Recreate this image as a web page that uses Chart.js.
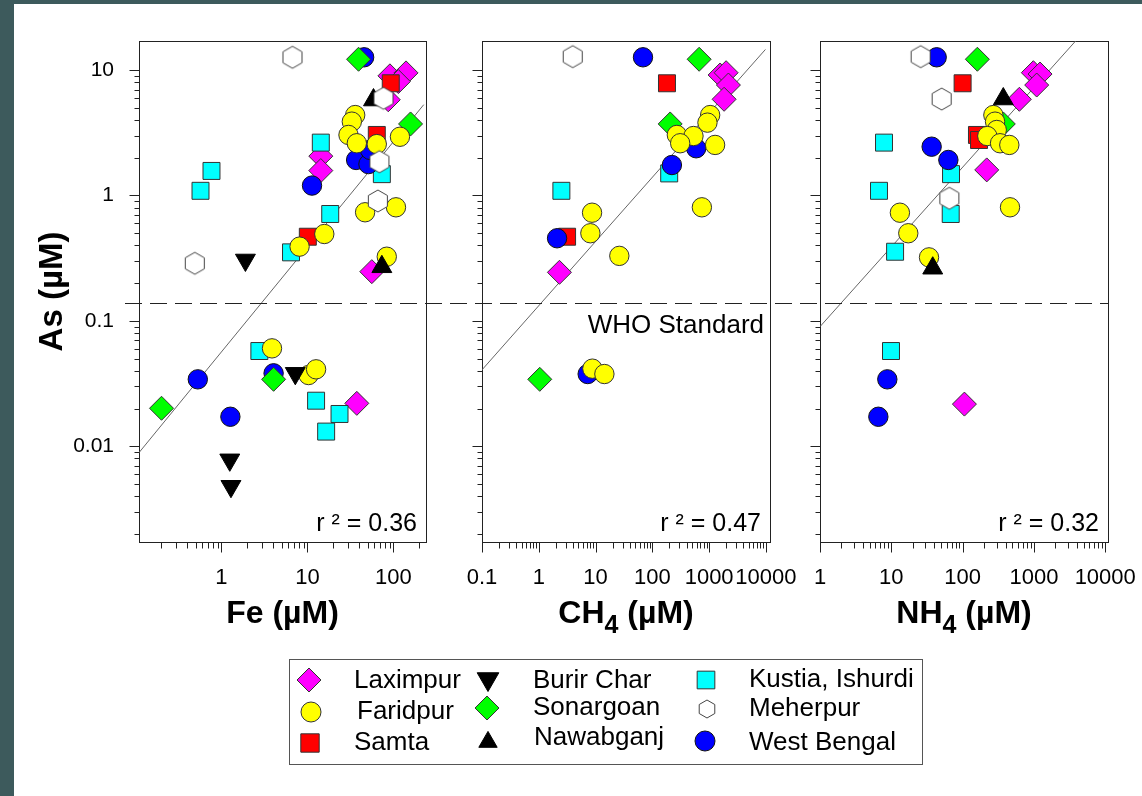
<!DOCTYPE html>
<html>
<head>
<meta charset="utf-8">
<script src="https://cdn.jsdelivr.net/npm/chart.js@4.4.0/dist/chart.umd.min.js"></script>
<style>
  html, body { margin: 0; padding: 0; }
  body { width: 1142px; height: 796px; background: #3d5a5c; position: relative; overflow: hidden;
         font-family: "Liberation Sans", Arial, sans-serif; }
  #sheet { position: absolute; left: 14px; top: 4px; right: 0; bottom: 0; background: #fff; }
  canvas.panel { position: absolute; top: 0; }
  #legendBox { position: absolute; left: 289px; top: 659px; width: 634px; height: 106px;
               border: 1px solid #555; box-sizing: border-box; }
  #legendMarks { position: absolute; left: 289px; top: 659px; }
  .lg { position: absolute; font-size: 26px; line-height: 26px; color: #000; white-space: nowrap; }
</style>
</head>
<body>
<div id="sheet"></div>
<canvas id="pFe" class="panel" width="440" height="650" style="left:0px"></canvas>
<canvas id="pCh4" class="panel" width="360" height="650" style="left:440px"></canvas>
<canvas id="pNh4" class="panel" width="342" height="650" style="left:800px"></canvas>
<div id="legendBox"></div>
<canvas id="legendMarks" width="634" height="106"></canvas>
<div id="legendText"></div>

<script>
// ---- Axis tick labels (µM) ----
const asTickLabels  = [0.01, 0.1, 1, 10];
const feTickLabels  = [1, 10, 100];
const ch4TickLabels = [0.1, 1, 10, 100, 1000, 10000];
const nh4TickLabels = [1, 10, 100, 1000, 10000];

// WHO drinking-water limit for As (µM) and r² of each fit
const whoStandard = 0.14;
const r2Values = [0.36, 0.47, 0.32];

// ---- Sites ----
const sites = ['Laximpur', 'Faridpur', 'Samta', 'Burir Char', 'Sonargoan',
               'Nawabganj', 'Kustia, Ishurdi', 'Meherpur', 'West Bengal'];

// ---- As vs Fe : [Fe, As] ----
const laximpurFe   = [[91, 9.0], [140, 9.5], [114, 8.1], [87, 5.8], [14.3, 2.06], [14.3, 1.58], [56, 0.247], [37.5, 0.022]];
const faridpurFe   = [[35.9, 4.38], [32.8, 3.88], [30, 3.04], [37.5, 2.61], [64, 2.57], [119, 2.94], [46.8, 0.735],
                      [107, 0.805], [15.7, 0.493], [8.1, 0.391], [83.6, 0.325], [3.87, 0.0604], [10.3, 0.037], [12.6, 0.0411]];
const samtaFe      = [[93, 7.85], [64, 3.04], [10.1, 0.469]];
const burirCharFe  = [[1.9, 0.306], [7.22, 0.0382], [1.25, 0.0078], [1.29, 0.0048]];
const sonargoanFe  = [[39.3, 12.2], [158, 3.72], [4.04, 0.0342], [0.201, 0.0201]];
const nawabganjFe  = [[58.6, 5.77], [73.3, 0.27]];
const kustiaFe     = [[14.3, 2.64], [73.3, 1.48], [0.766, 1.57], [0.571, 1.09], [18.4, 0.712], [6.44, 0.352],
                      [2.76, 0.0575], [12.6, 0.0231], [23.6, 0.0181], [16.5, 0.0131]];
const meherpurFe   = [[6.7, 12.65], [76.6, 5.96], [68.7, 1.86], [65.8, 0.904], [0.49, 0.288]];
const westBengalFe = [[45.6, 12.65], [36.8, 1.92], [51.2, 1.78], [53.5, 2.31], [11.3, 1.2], [4.04, 0.0382],
                      [0.531, 0.0342], [1.27, 0.0172]];
const fitFe        = [[0.11, 0.0089], [225, 5.3]];

// ---- As vs CH4 : [CH4, As] ----
const laximpurCh4   = [[1560, 9.14], [1990, 9.53], [2185, 7.6], [1835, 5.85], [2.31, 0.244]];
const faridpurCh4   = [[1042, 4.38], [934, 3.81], [270, 3.04], [530, 2.98], [309, 2.61], [1274, 2.53], [745, 0.805],
                       [8.67, 0.729], [8.1, 0.5], [26.2, 0.33], [8.79, 0.0416], [14.3, 0.0377]];
const samtaCh4      = [[181, 7.85], [3.15, 0.469]];
const burirCharCh4  = [];
const sonargoanCh4  = [[667, 12.2], [206, 3.72], [1.04, 0.0342]];
const nawabganjCh4  = [];
const kustiaCh4     = [[198, 1.5], [2.5, 1.09]];
const meherpurCh4   = [[3.96, 12.8]];
const westBengalCh4 = [[68.4, 12.65], [591, 2.38], [221, 1.75], [2.1, 0.456], [7.26, 0.0377]];
const fitCh4        = [[0.1, 0.0407], [9800, 14.6]];

// ---- As vs NH4 : [NH4, As] ----
const laximpurNh4   = [[982, 9.53], [1219, 9.3], [1094, 7.6], [625, 5.85], [218, 1.6], [106, 0.0217]];
const faridpurNh4   = [[270, 4.38], [285, 3.88], [301, 3.33], [222, 2.98], [335, 2.61], [452, 2.53], [462, 0.805],
                       [13.2, 0.729], [17.3, 0.5], [33.8, 0.321]];
const samtaNh4      = [[100, 7.85], [159, 3.04], [170, 2.77]];
const burirCharNh4  = [];
const sonargoanNh4  = [[161, 12.2], [372, 3.72]];
const nawabganjNh4  = [[372, 5.88], [38.1, 0.263]];
const kustiaNh4     = [[7.9, 2.64], [6.72, 1.09], [68.8, 1.48], [68.1, 0.712], [11.3, 0.356], [9.9, 0.0575]];
const meherpurNh4   = [[25.8, 12.8], [50.8, 5.88], [65.1, 0.95]];
const westBengalNh4 = [[43.3, 12.65], [36.8, 2.45], [63.1, 1.92], [8.79, 0.0342], [6.58, 0.0172]];
const fitNh4        = [[1, 0.09], [4000, 17.5]];

// ---- Marker appearance per site (same order as `sites`) ----
const FONT = '"Liberation Sans", Arial, sans-serif';
const siteStyles = [
  { shape: 'rectRot',  fill: '#ff00ff', stroke: '#333', bw: 1, r: 12,  order: 9 },
  { shape: 'circle',   fill: '#ffff00', stroke: '#333', bw: 1, r: 9.7, order: 4 },
  { shape: 'rect',     fill: '#ff0000', stroke: '#333', bw: 1, r: 12,  order: 8 },
  { shape: 'triangle', fill: '#000000', stroke: '#000', bw: 1, r: 11.5, order: 3, rot: 180 },
  { shape: 'rectRot',  fill: '#00ff00', stroke: '#333', bw: 1, r: 12,  order: 5 },
  { shape: 'triangle', fill: '#000000', stroke: '#000', bw: 1, r: 11.5, order: 2 },
  { shape: 'rect',     fill: '#00ffff', stroke: '#333', bw: 1, r: 12,  order: 7 },
  { shape: 'hexagon',  fill: '#ffffff', stroke: '#444', bw: 1, r: 11, order: 1 },
  { shape: 'circle',   fill: '#0000ff', stroke: '#111', bw: 1, r: 9.7, order: 6 }
];

function hexagonImage(r, fill, stroke) {
  const size = Math.ceil(2 * r + 4);
  const c = document.createElement('canvas');
  c.width = size; c.height = size;
  const g = c.getContext('2d');
  g.beginPath();
  for (let k = 0; k < 6; k++) {
    const a = -Math.PI / 2 + k * Math.PI / 3;
    g.lineTo(size / 2 + r * Math.cos(a), size / 2 + r * Math.sin(a));
  }
  g.closePath();
  g.fillStyle = fill; g.fill();
  g.strokeStyle = stroke; g.lineWidth = 1; g.stroke();
  return c;
}
const hexMarker = hexagonImage(11, '#ffffff', '#444');

// Log ticks 1..9 x 10^n inside [min, max]
function logTicks(min, max) {
  const out = [];
  for (let e = Math.floor(Math.log10(min)) - 1; e <= Math.ceil(Math.log10(max)); e++) {
    for (let m = 1; m <= 9; m++) {
      const v = Number((m * Math.pow(10, e)).toPrecision(10));
      if (v >= min * (1 - 1e-9) && v <= max * (1 + 1e-9)) out.push(v);
    }
  }
  return out;
}
function isDecade(v) {
  const l = Math.log10(v);
  return Math.abs(l - Math.round(l)) < 1e-6;
}
function tickText(v, list) {
  const t = list.find(t => Math.abs(v - t) <= t * 1e-6);
  return t === undefined ? '' : String(t);
}

// Frame, tick marks, WHO line and panel text
const panelDecor = {
  id: 'panelDecor',
  beforeDatasetsDraw(chart, args, o) {
    const { ctx, chartArea: a, scales: { x, y } } = chart;
    ctx.save();
    ctx.strokeStyle = '#222';
    ctx.lineWidth = 1;
    const L = Math.round(a.left) + 0.5, T = Math.round(a.top) + 0.5;
    const R = Math.round(a.right) + 0.5, B = Math.round(a.bottom) + 0.5;
    ctx.strokeRect(L, T, R - L, B - T);
    ctx.beginPath();
    for (const v of logTicks(y.min, y.max)) {
      const py = Math.round(y.getPixelForValue(v)) + 0.5;
      const len = isDecade(v) ? 10 : 5;
      ctx.moveTo(L - len, py); ctx.lineTo(L, py);
    }
    for (const v of logTicks(x.min, x.max)) {
      const px = Math.round(x.getPixelForValue(v)) + 0.5;
      const len = isDecade(v) ? 10 : 6;
      ctx.moveTo(px, B); ctx.lineTo(px, B + len);
    }
    ctx.stroke();
    ctx.restore();
  },
  afterDraw(chart, args, o) {
    const { ctx, chartArea: a, scales: { y } } = chart;
    ctx.save();
    // WHO standard, dashed across the panels
    const wy = Math.round(y.getPixelForValue(whoStandard)) + 0.5;
    const x0 = o.whoFrom, x1 = o.whoTo === 'area' ? a.right : chart.width;
    ctx.strokeStyle = '#222';
    ctx.lineWidth = 1;
    ctx.setLineDash([17, 8]);
    ctx.lineDashOffset = o.canvasLeft + x0 - 125;
    ctx.beginPath(); ctx.moveTo(x0, wy); ctx.lineTo(x1, wy); ctx.stroke();
    ctx.setLineDash([]);

    ctx.fillStyle = '#000';
    ctx.font = '25px ' + FONT;
    ctx.textAlign = 'right';
    ctx.textBaseline = 'alphabetic';
    ctx.fillText('r \u00b2 = ' + o.r2.toFixed(2), a.right - 9, a.bottom - 11);
    if (o.whoLabel) {
      ctx.font = '26px ' + FONT;
      ctx.fillText('WHO Standard', a.right - 6, wy + 29);
    }

    // x-axis title with optional subscript
    const big = 'bold 32px ' + FONT, small = 'bold 25px ' + FONT;
    let total = 0;
    for (const [t, sub] of o.xTitle) { ctx.font = sub ? small : big; total += ctx.measureText(t).width; }
    let cx = (a.left + a.right) / 2 - total / 2;
    ctx.textAlign = 'left';
    for (const [t, sub] of o.xTitle) {
      ctx.font = sub ? small : big;
      ctx.fillText(t, cx, 623 + (sub ? 10 : 0));
      cx += ctx.measureText(t).width;
    }
    // y-axis title
    if (o.yTitle) {
      ctx.translate(62, (a.top + a.bottom) / 2);
      ctx.rotate(-Math.PI / 2);
      ctx.font = 'bold 33px ' + FONT;
      ctx.textAlign = 'center';
      ctx.fillText(o.yTitle, 0, 0);
    }
    ctx.restore();
  }
};

function buildPanel(id, cfg) {
  const datasets = sites.map((name, i) => {
    const s = siteStyles[i];
    return {
      label: name,
      data: cfg.data[i].map(([x, y]) => ({ x, y })),
      pointStyle: s.shape === 'hexagon' ? hexMarker : s.shape,
      pointRotation: s.rot || 0,
      pointRadius: s.r,
      pointHoverRadius: s.r,
      backgroundColor: s.fill,
      borderColor: s.stroke,
      borderWidth: s.bw,
      order: s.order
    };
  });
  datasets.push({
    label: 'fit',
    data: cfg.fit.map(([x, y]) => ({ x, y })),
    showLine: true,
    pointRadius: 0,
    borderColor: '#666',
    borderWidth: 1,
    order: 20
  });

  new Chart(document.getElementById(id), {
    type: 'scatter',
    data: { datasets },
    plugins: [panelDecor],
    options: {
      responsive: false,
      animation: false,
      events: [],
      devicePixelRatio: 1,
      layout: { padding: { left: 0, top: 41, right: cfg.padRight, bottom: 0 } },
      plugins: {
        legend: { display: false },
        tooltip: { enabled: false },
        panelDecor: cfg.decor
      },
      scales: {
        x: {
          type: 'logarithmic',
          min: cfg.xMin, max: cfg.xMax,
          grid: { display: false, drawTicks: false },
          border: { display: false },
          afterBuildTicks: s => { s.ticks = logTicks(s.min, s.max).map(v => ({ value: v })); },
          afterFit: s => { s.height = 108; s.paddingLeft = 0; s.paddingRight = 0; },
          ticks: {
            autoSkip: false, maxRotation: 0, minRotation: 0, padding: 23,
            color: '#000', font: { family: FONT, size: 22 },
            callback: v => tickText(v, cfg.xLabels)
          }
        },
        y: {
          type: 'logarithmic',
          min: 0.001725, max: 17.06,
          grid: { display: false, drawTicks: false },
          border: { display: false },
          afterBuildTicks: s => { s.ticks = logTicks(s.min, s.max).map(v => ({ value: v })); },
          afterFit: s => { s.width = cfg.yWidth; s.paddingTop = 0; s.paddingBottom = 0; },
          ticks: {
            display: cfg.showYLabels, autoSkip: false, padding: 25,
            color: '#000', font: { family: FONT, size: 21 },
            callback: v => tickText(v, asTickLabels)
          }
        }
      }
    }
  });
}

buildPanel('pFe', {
  data: [laximpurFe, faridpurFe, samtaFe, burirCharFe, sonargoanFe, nawabganjFe, kustiaFe, meherpurFe, westBengalFe],
  fit: fitFe, xMin: 0.11, xMax: 239, xLabels: feTickLabels,
  yWidth: 139, padRight: 14, showYLabels: true,
  decor: { canvasLeft: 0, whoFrom: 125, whoTo: 'canvas', r2: r2Values[0], whoLabel: false,
           xTitle: [['Fe', 0], [' (\u00b5M)', 0]], yTitle: 'As (\u00b5M)' }
});
buildPanel('pCh4', {
  data: [laximpurCh4, faridpurCh4, samtaCh4, burirCharCh4, sonargoanCh4, nawabganjCh4, kustiaCh4, meherpurCh4, westBengalCh4],
  fit: fitCh4, xMin: 0.1, xMax: 11800, xLabels: ch4TickLabels,
  yWidth: 42, padRight: 30, showYLabels: false,
  decor: { canvasLeft: 440, whoFrom: 0, whoTo: 'canvas', r2: r2Values[1], whoLabel: true,
           xTitle: [['CH', 0], ['4', 1], [' (\u00b5M)', 0]], yTitle: null }
});
buildPanel('pNh4', {
  data: [laximpurNh4, faridpurNh4, samtaNh4, burirCharNh4, sonargoanNh4, nawabganjNh4, kustiaNh4, meherpurNh4, westBengalNh4],
  fit: fitNh4, xMin: 1, xMax: 10940, xLabels: nh4TickLabels,
  yWidth: 20, padRight: 34, showYLabels: false,
  decor: { canvasLeft: 800, whoFrom: 0, whoTo: 'area', r2: r2Values[2], whoLabel: false,
           xTitle: [['NH', 0], ['4', 1], [' (\u00b5M)', 0]], yTitle: null }
});

// ---- Legend: three columns of markers and site names ----
const legendLayout = [
  // [site index, marker x, marker y, marker r, text x, text baseline]  (page coordinates)
  [0, 309, 680, 12, 354, 688],
  [1, 311, 712, 10, 357, 719],
  [2, 310, 743, 13, 354, 750],
  [3, 488, 679, 12.5, 533, 688],
  [4, 487, 708, 12, 533, 715],
  [5, 488, 742, 10.6, 534, 745],
  [6, 706, 680, 12.5, 749, 687],
  [7, 707, 709, 9, 749, 716],
  [8, 705, 741, 10, 749, 750]
];
(function drawLegend() {
  const cv = document.getElementById('legendMarks');
  const g = cv.getContext('2d');
  const ox = 289, oy = 659;
  const textHost = document.getElementById('legendText');
  for (const [i, mx, my, r, tx, tb] of legendLayout) {
    const s = siteStyles[i];
    const x = mx - ox, y = my - oy;
    g.save();
    g.fillStyle = s.fill; g.strokeStyle = s.stroke; g.lineWidth = 1;
    g.beginPath();
    if (s.shape === 'circle') {
      g.arc(x, y, r, 0, Math.PI * 2);
    } else if (s.shape === 'rect') {
      const h = r * Math.SQRT1_2;
      g.rect(x - h, y - h, 2 * h, 2 * h);
    } else if (s.shape === 'rectRot') {
      g.moveTo(x, y - r); g.lineTo(x + r, y); g.lineTo(x, y + r); g.lineTo(x - r, y);
    } else if (s.shape === 'triangle') {
      const rot = (s.rot || 0) * Math.PI / 180;
      for (let k = 0; k < 3; k++) {
        const a = rot + k * 2 * Math.PI / 3;
        g.lineTo(x + Math.sin(a) * r, y - Math.cos(a) * r);
      }
    } else if (s.shape === 'hexagon') {
      for (let k = 0; k < 6; k++) {
        const a = -Math.PI / 2 + k * Math.PI / 3;
        g.lineTo(x + r * Math.cos(a), y + r * Math.sin(a));
      }
    }
    g.closePath();
    g.fill(); g.stroke();
    g.restore();

    const span = document.createElement('span');
    span.className = 'lg';
    span.textContent = sites[i];
    span.style.left = tx + 'px';
    span.style.top = (tb - 22) + 'px';
    textHost.appendChild(span);
  }
})();
</script>
</body>
</html>
